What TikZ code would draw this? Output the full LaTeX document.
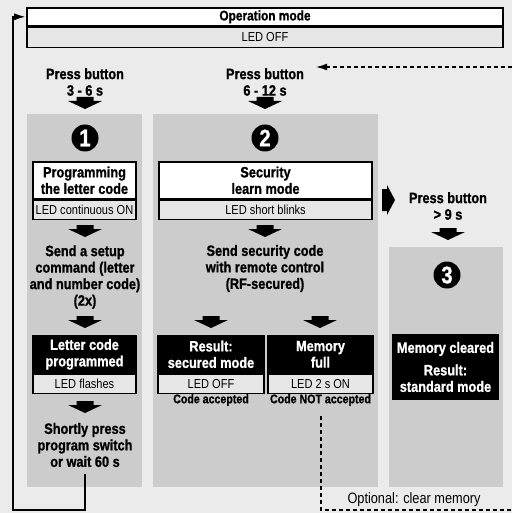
\documentclass[tikz,border=0pt]{standalone}
\usepackage{fontspec}
\setmainfont{Liberation Sans}[FakeStretch=0.85, BoldFeatures={FakeBold=1}]
\usetikzlibrary{positioning,arrows.meta}
\definecolor{bggray}{HTML}{EBEBEB}
\definecolor{panelgray}{HTML}{CCCCCC}
\definecolor{ledgray}{HTML}{E6E6E6}
\begin{document}
\begin{tikzpicture}[
    x=1pt, y=1pt,
    head/.style={draw, line width=1.6pt, fill=white, minimum height=37pt, inner sep=1pt, align=center, font=\fontsize{15}{16.5}\selectfont\bfseries},
    blackhead/.style={head, fill=black, text=white},
    ledbar/.style={draw, line width=1.6pt, fill=ledgray, minimum height=19pt, inner sep=0pt, font=\fontsize{13}{14}\selectfont},
    txt/.style={align=center, inner sep=1pt, font=\fontsize{15}{16.5}\selectfont\bfseries},
    note/.style={inner sep=1pt, font=\fontsize{12.5}{14}\selectfont\bfseries},
    num/.style={circle, fill=black, text=white, minimum size=27pt, inner sep=0pt, font=\fontsize{24}{24}\selectfont\bfseries},
    retline/.style={line width=2pt, -{Latex[length=12pt,width=7pt]}},
    optline/.style={line width=2pt, dash pattern=on 4pt off 3pt},
    downarr/.pic={\fill (-8.5,0) -- (8.5,0) -- (8.5,-4) -- (17,-4) -- (0,-12) -- (-17,-4) -- (-8.5,-4) -- cycle;},
    rightarr/.pic={\fill (0,11) -- (5,11) -- (5,15) -- (13,0) -- (5,-15) -- (5,-11) -- (0,-11) -- cycle;}
]
    \useasboundingbox (0,0) rectangle (512,-513);
    \fill[bggray] (0,0) rectangle (512,-513);

    % Operation mode
    \node[head, minimum width=476pt, minimum height=18pt, font=\fontsize{14}{15}\selectfont\bfseries, anchor=north] (opmode) at (265,-7) {Operation mode};
    \node[ledbar, minimum width=476pt, minimum height=20pt, below=0pt of opmode] (opled) {LED OFF};

    % Panels
    \fill[panelgray] (27,-114) rectangle (142,-487);
    \fill[panelgray] (153,-114) rectangle (378,-487);
    \fill[panelgray] (389,-247) rectangle (503,-487);

    % Step 1
    \node[txt] (press1) at (85,-82) {Press button\\3 - 6 s};
    \pic at (85,-97) {downarr};
    \node[num] (num1) at (85,-138) {1};
    \node[head, minimum width=103pt, anchor=north] (prog) at (84.5,-161) {Programming\\the letter code};
    \node[ledbar, minimum width=103pt, below=0pt of prog] (progled) {LED continuous ON};
    \pic at (85,-225) {downarr};
    \node[txt] (send1) at (85,-277) {Send a setup\\command (letter\\and number code)\\(2x)};
    \pic at (85,-316) {downarr};
    \node[blackhead, minimum width=103pt, anchor=north] (letter) at (84.5,-335) {Letter code\\programmed};
    \node[ledbar, minimum width=103pt, below=0pt of letter] (letterled) {LED flashes};
    \pic at (85,-401) {downarr};
    \node[txt] (shortly) at (85,-445) {Shortly press\\program switch\\or wait 60 s};

    % Step 2
    \node[txt] (press2) at (265,-82) {Press button\\6 - 12 s};
    \pic at (265,-97) {downarr};
    \node[num] (num2) at (265,-138) {2};
    \node[head, minimum width=213pt, anchor=north] (sec) at (265.5,-161) {Security\\learn mode};
    \node[ledbar, minimum width=213pt, below=0pt of sec] (secled) {LED short blinks};
    \pic at (265,-225) {downarr};
    \node[txt] (send2) at (265,-268.5) {Send security code\\with remote control\\(RF-secured)};
    \pic at (211,-316) {downarr};
    \pic at (320,-316) {downarr};
    \node[blackhead, minimum width=106pt, anchor=north] (secured) at (211,-335) {Result:\\secured mode};
    \node[ledbar, minimum width=106pt, below=0pt of secured] (securedled) {LED OFF};
    \node[blackhead, minimum width=105pt, anchor=north] (full) at (320.5,-335) {Memory\\full};
    \node[ledbar, minimum width=105pt, below=0pt of full] (fullled) {LED 2 s ON};
    \node[note] (acc) at (211,-400) {Code accepted};
    \node[note] (notacc) at (320.5,-400) {Code NOT accepted};

    % Step 3
    \pic at (382,-200) {rightarr};
    \node[txt] (press3) at (448,-206) {Press button\\> 9 s};
    \pic at (448,-228) {downarr};
    \node[num] (num3) at (447,-275) {3};
    \node[blackhead, minimum width=105pt, minimum height=64pt] (cleared) at (445.5,-367) {Memory cleared\\[6pt]Result:\\standard mode};

    % Return and optional paths
    \coordinate (retcorner) at (13,-510);
    \draw[retline] (shortly.south) ++(0,-6) |- (retcorner) |- (opmode.west);
    \coordinate (optcorner) at (512,-510);
    \coordinate (opttop) at (512,-67);
    \draw[optline] (notacc.south) ++(0,-9) |- (optcorner);
    \draw[optline, -{Latex[length=12pt,width=7pt]}, shorten >=10pt] (opttop) -- (opttop -| press2.east);
    \node[font=\fontsize{15}{16}\selectfont] (optional) at (414,-500) {Optional: clear memory};
\end{tikzpicture}
\end{document}
